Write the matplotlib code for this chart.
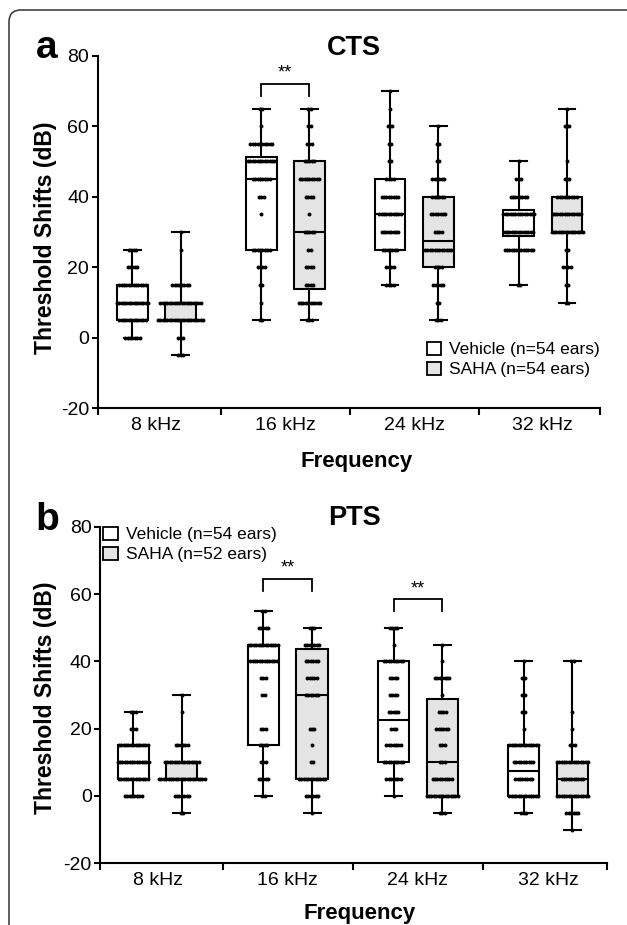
import matplotlib
matplotlib.use('Agg')
import matplotlib.pyplot as plt
import numpy as np
from matplotlib.patches import Patch, FancyBboxPatch

plt.rcParams['font.family'] = ['Liberation Sans', 'DejaVu Sans']
plt.rcParams['axes.unicode_minus'] = False

freq_labels = ['8 kHz', '16 kHz', '24 kHz', '32 kHz']

# box statistics per frequency: [whisker low, Q1, median, Q3, whisker high] (dB)
cts_vehicle_stats = [[0, 5, 10, 15, 25], [5, 25, 45, 51.25, 65], [15, 25, 35, 45, 70], [15, 28.75, 35, 36.25, 50]]
cts_saha_stats = [[-5, 5, 10, 10, 30], [5, 13.75, 30, 50, 65], [5, 20, 27.5, 40, 60], [10, 30, 35, 40, 65]]
pts_vehicle_stats = [[0, 5, 10, 15, 25], [0, 15, 40, 45, 55], [0, 10, 22.5, 40, 50], [-5, 0, 7.5, 15, 40]]
pts_saha_stats = [[-5, 5, 5, 10, 30], [-5, 5, 30, 43.75, 50], [-5, 0, 10, 28.75, 45], [-10, 0, 5, 10, 40]]

# individual ears: threshold-shift levels (dB) and number of ears at each level
cts_vehicle_levels = [[25, 20, 15, 10, 5, 0],
                      [65, 60, 55, 50, 45, 40, 35, 25, 20, 15, 10, 5],
                      [70, 65, 60, 55, 50, 45, 40, 35, 30, 25, 20, 15],
                      [50, 45, 40, 35, 30, 25, 15]]
cts_vehicle_counts = [[4, 5, 12, 14, 12, 7],
                      [2, 1, 10, 12, 8, 3, 1, 8, 4, 2, 1, 2],
                      [1, 1, 3, 2, 2, 4, 8, 10, 8, 7, 4, 4],
                      [1, 3, 8, 14, 13, 13, 2]]
cts_saha_levels = [[30, 25, 15, 10, 5, 0, -5],
                   [65, 60, 55, 50, 45, 40, 35, 30, 25, 20, 15, 10, 5],
                   [60, 55, 50, 45, 40, 35, 30, 25, 20, 15, 10, 5],
                   [65, 60, 50, 45, 40, 35, 30, 25, 20, 15, 10]]
cts_saha_counts = [[1, 1, 8, 18, 20, 3, 3],
                   [2, 2, 3, 5, 9, 4, 1, 5, 2, 4, 4, 10, 3],
                   [1, 2, 2, 6, 6, 7, 4, 12, 4, 5, 2, 3],
                   [1, 3, 1, 3, 9, 13, 14, 2, 4, 2, 2]]
pts_vehicle_levels = [[25, 20, 15, 10, 5, 0],
                      [55, 50, 45, 40, 35, 30, 20, 15, 10, 5, 0],
                      [50, 45, 40, 35, 30, 25, 20, 15, 10, 5, 0],
                      [40, 35, 30, 25, 20, 15, 10, 5, 0, -5]]
pts_vehicle_counts = [[3, 3, 13, 14, 13, 8],
                      [2, 5, 13, 12, 3, 2, 3, 4, 3, 5, 2],
                      [4, 1, 9, 4, 4, 5, 3, 7, 9, 7, 1],
                      [1, 2, 2, 2, 1, 13, 9, 8, 13, 3]]
pts_saha_levels = [[30, 25, 15, 10, 5, 0, -5],
                   [50, 45, 40, 35, 30, 20, 15, 10, 5, 0, -5],
                   [45, 40, 35, 30, 25, 20, 15, 10, 5, 0, -5],
                   [40, 25, 20, 15, 10, 5, 0, -5, -10]]
pts_saha_counts = [[1, 1, 6, 15, 20, 7, 2],
                   [3, 7, 6, 5, 6, 3, 1, 2, 12, 6, 1],
                   [1, 1, 7, 1, 4, 6, 3, 3, 9, 14, 3],
                   [2, 1, 1, 3, 14, 10, 14, 6, 1]]

cts_legend = ['Vehicle (n=54 ears)', 'SAHA (n=54 ears)']
pts_legend = ['Vehicle (n=54 ears)', 'SAHA (n=52 ears)']

# significance brackets: (frequency index, bracket height dB)
cts_sig = [(1, 72)]
pts_sig = [(1, 64.5), (2, 58.5)]

W, H = 627, 925
fig = plt.figure(figsize=(W / 100, H / 100), dpi=100)


def fx(x):
    return x / W


def fy(y):
    return 1 - y / H


BOX_W = 0.24
CAP_W = 0.13
OFF = 0.187
PITCH = 0.0185
LW = 1.5
VEH_FC = 'white'
SAHA_FC = '#e4e4e4'


def draw_panel(ax, vstats, sstats, vlev, vcnt, slev, scnt, xlim, sig, legend_labels, legend_loc, legend_anchor):
    pos = np.arange(len(freq_labels))
    for stats, levels, counts, off, fc in [(vstats, vlev, vcnt, -OFF, VEH_FC), (sstats, slev, scnt, OFF, SAHA_FC)]:
        bstats = [dict(whislo=s[0], q1=s[1], med=s[2], q3=s[3], whishi=s[4], fliers=[]) for s in stats]
        ax.bxp(bstats, positions=pos + off, widths=BOX_W, capwidths=CAP_W, patch_artist=True,
               showfliers=False, manage_ticks=False,
               boxprops=dict(facecolor=fc, edgecolor='black', linewidth=LW),
               medianprops=dict(color='black', linewidth=LW, solid_capstyle='butt'),
               whiskerprops=dict(color='black', linewidth=LW),
               capprops=dict(color='black', linewidth=LW))
        for i in range(len(pos)):
            xs, ys = [], []
            for lv, n in zip(levels[i], counts[i]):
                xs.extend(pos[i] + off + (np.arange(n) - (n - 1) / 2) * PITCH)
                ys.extend([lv] * n)
            ax.scatter(xs, ys, s=8, color='black', linewidths=0, zorder=5)
    # significance brackets
    for gi, yb in sig:
        x0, x1 = gi - OFF, gi + OFF
        ax.plot([x0, x0, x1, x1], [yb - 3.5, yb, yb, yb - 3.5], color='black', lw=1.3,
                solid_joinstyle='miter', clip_on=False)
        ax.text(gi, yb + 0.6, '**', ha='center', va='bottom', fontsize=13)
    ax.set_xlim(*xlim)
    ax.set_ylim(-20, 80)
    ax.set_yticks([-20, 0, 20, 40, 60, 80])
    ax.tick_params(axis='y', labelsize=14, length=4, width=LW, pad=2)
    ax.set_xticks(pos)
    ax.set_xticklabels(freq_labels)
    ax.tick_params(axis='x', which='major', length=0, labelsize=14, pad=6)
    ax.set_xticks([xlim[0], 0.5, 1.5, 2.5, xlim[1]], minor=True)
    ax.tick_params(axis='x', which='minor', length=5, width=LW)
    for sp in ['top', 'right']:
        ax.spines[sp].set_visible(False)
    for sp in ['left', 'bottom']:
        ax.spines[sp].set_linewidth(LW)
    handles = [Patch(facecolor=VEH_FC, edgecolor='black', linewidth=1.3),
               Patch(facecolor=SAHA_FC, edgecolor='black', linewidth=1.3)]
    ax.legend(handles, legend_labels, loc=legend_loc, bbox_to_anchor=legend_anchor, frameon=False,
              fontsize=12.5, handlelength=0.85, handleheight=0.8, handletextpad=0.45,
              labelspacing=0.25, borderpad=0, borderaxespad=0)


# panel a
ax_a = fig.add_axes([fx(97.5), fy(408.3), fx(600 - 97.5), (408.3 - 55.7) / H])
draw_panel(ax_a, cts_vehicle_stats, cts_saha_stats, cts_vehicle_levels, cts_vehicle_counts,
           cts_saha_levels, cts_saha_counts, (-0.458, 3.443), cts_sig, cts_legend,
           'lower right', (1.0, 0.088))

# panel b
ax_b = fig.add_axes([fx(100), fy(863.3), fx(607 - 100), (863.3 - 526.7) / H])
draw_panel(ax_b, pts_vehicle_stats, pts_saha_stats, pts_vehicle_levels, pts_vehicle_counts,
           pts_saha_levels, pts_saha_counts, (-0.442, 3.453), pts_sig, pts_legend,
           'upper left', (0.006, 1.0))

# texts
fig.text(fx(36), fy(58), 'a', fontsize=28, fontweight='bold', ha='left', va='baseline')
fig.text(fx(35), fy(530), 'b', fontsize=28, fontweight='bold', ha='left', va='baseline')
fig.text(fx(354), fy(48), 'CTS', fontsize=19.5, fontweight='bold', ha='center', va='center')
fig.text(fx(354), fy(518), 'PTS', fontsize=19.5, fontweight='bold', ha='center', va='center')
fig.text(fx(357), fy(462), 'Frequency', fontsize=16, fontweight='bold', ha='center', va='center')
fig.text(fx(360), fy(914), 'Frequency', fontsize=16, fontweight='bold', ha='center', va='center')
fig.text(fx(46), fy(238), 'Threshold Shifts (dB)', fontsize=16.5, fontweight='bold',
         ha='center', va='center', rotation=90)
fig.text(fx(46), fy(698), 'Threshold Shifts (dB)', fontsize=16.5, fontweight='bold',
         ha='center', va='center', rotation=90)

# rounded frame (runs off the right and bottom edges)
frame = FancyBboxPatch((0.09, -0.5), 7.0, 9.15 + 0.5, boxstyle='round,pad=0,rounding_size=0.12',
                       transform=fig.dpi_scale_trans, facecolor='none', edgecolor='#333333',
                       linewidth=1.1, zorder=-1)
fig.patches.append(frame)

fig.savefig('out.png', dpi=100)
